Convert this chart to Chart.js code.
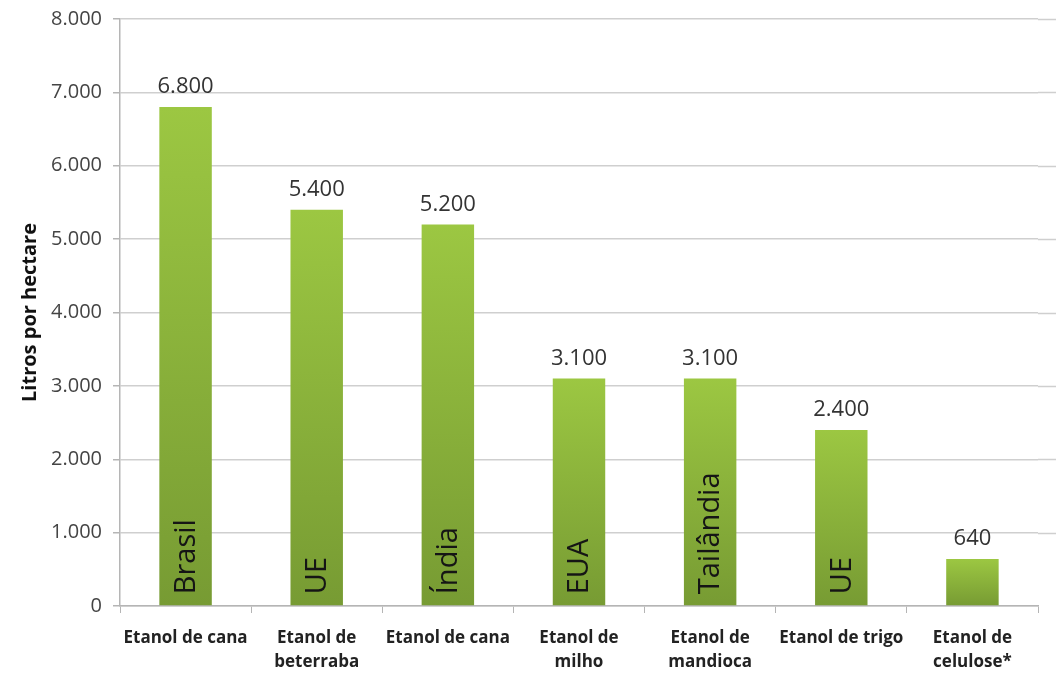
<!DOCTYPE html>
<html>
<head>
<meta charset="utf-8">
<script src="https://cdn.jsdelivr.net/npm/chart.js@4"></script>
<style>
  html, body { margin: 0; padding: 0; background: #fff; }
  #wrap { width: 1056px; height: 677px; }
</style>
</head>
<body>
<div id="wrap"><canvas id="chart"></canvas></div>
<script>
// data
var categories = [["Etanol de cana"], ["Etanol de", "beterraba"], ["Etanol de cana"], ["Etanol de", "milho"], ["Etanol de", "mandioca"], ["Etanol de trigo"], ["Etanol de", "celulose*"]];
var countries = ["Brasil", "UE", "Índia", "EUA", "Tailândia", "UE", ""];
var litros = [6800, 5400, 5200, 3100, 3100, 2400, 640];
var yTicks = [0, 1000, 2000, 3000, 4000, 5000, 6000, 7000, 8000];

var FONT = "'Open Sans', 'DejaVu Sans', sans-serif";

const fmt = (v) => String(v).replace(/\B(?=(\d{3})+(?!\d))/g, ".")

// gradient per bar, light at the top and darker at the base
const barFill = (ctx) => {
	var chart = ctx.chart
	var y = chart.scales.y
	if (!chart.chartArea || !y || ctx.type !== "data") return "#8db83b"
	var top = y.getPixelForValue(ctx.raw)
	var bot = y.getPixelForValue(0)
	var g = chart.ctx.createLinearGradient(0, top, 0, bot)
	g.addColorStop(0, "#9cc742")
	g.addColorStop(1, "#779b33")
	return g
}

// horizontal grid goes all the way to the right edge, like the original
const gridToEdge = {
	id: "gridToEdge",
	beforeDatasetsDraw(chart) {
		var c = chart.ctx, y = chart.scales.y, a = chart.chartArea
		c.save()
		c.strokeStyle = "#cfcfcf"
		c.lineWidth = 1.5
		for (var t of yTicks) {
			if (t === 0) continue
			var py = Math.round(y.getPixelForValue(t)) + 0.5
			c.beginPath()
			c.moveTo(a.right, py)
			c.lineTo(chart.width, py)
			c.stroke()
		}
		c.restore()
	}
}

// value above each bar + country name written up inside the bar
const barTexts = {
	id: "barTexts",
	afterDatasetsDraw(chart) {
		var c = chart.ctx
		var meta = chart.getDatasetMeta(0)
		c.save()
		meta.data.forEach(function (bar, i) {
			c.fillStyle = "#333"
			c.font = "22px " + FONT
			c.textAlign = "center"
			c.textBaseline = "bottom"
			c.fillText(fmt(litros[i]), bar.x, bar.y - 9)
			if (countries[i]) {
				c.save()
				c.translate(bar.x, bar.base - 11)
				c.rotate(-Math.PI / 2)
				c.font = "29px " + FONT
				c.fillStyle = "#151515"
				c.textAlign = "left"
				c.textBaseline = "middle"
				c.fillText(countries[i], 0, 1)
				c.restore()
			}
		})
		c.restore()
	}
}

new Chart("chart", {
	type: "bar",
	data: {
		labels: categories,
		datasets: [{
			data: litros,
			backgroundColor: barFill,
			borderWidth: 0,
			categoryPercentage: 1,
			barPercentage: 0.4
		}]
	},
	options: {
		responsive: true,
		maintainAspectRatio: false,
		animation: false,
		layout: { padding: { top: 0, right: 18, left: 18, bottom: 0 } },
		plugins: {
			legend: { display: false },
			tooltip: { enabled: false }
		},
		scales: {
			x: {
				afterFit: (s) => { s.height = 71 },
				grid: {
					offset: true,
					drawOnChartArea: false,
					drawTicks: true,
					tickLength: 7,
					color: "#b5b5b5"
				},
				border: { color: "#b5b5b5", width: 1.5 },
				ticks: {
					color: "#222",
					font: { family: FONT, size: 17, weight: "bold", lineHeight: 1.4 },
					padding: 13,
					maxRotation: 0,
					autoSkip: false
				}
			},
			y: {
				min: 0,
				max: 8000,
				afterBuildTicks: (s) => { s.ticks = yTicks.map(v => ({ value: v })) },
				afterFit: (s) => { s.width = 102; s.paddingTop = 19 },
				grid: {
					color: "#cfcfcf",
					lineWidth: 1.5,
					tickLength: 7,
					tickColor: "#b5b5b5"
				},
				border: { color: "#b5b5b5", width: 1.5 },
				ticks: {
					color: "#444",
					font: { family: FONT, size: 20 },
					padding: 11,
					callback: (v) => fmt(v)
				},
				title: {
					display: true,
					text: "Litros por hectare",
					color: "#111",
					font: { family: FONT, size: 20, weight: "bold" },
					padding: { top: 0, bottom: 4 }
				}
			}
		}
	},
	plugins: [gridToEdge, barTexts]
})
</script>
</body>
</html>
